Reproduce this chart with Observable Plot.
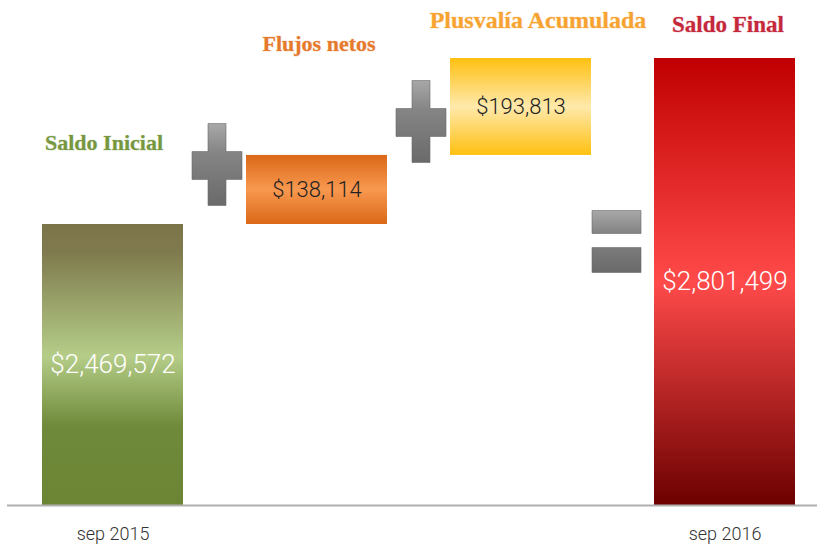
<!DOCTYPE html>
<html>
<head>
<meta charset="utf-8">
<script src="https://cdn.jsdelivr.net/npm/d3@7"></script>
<script src="https://cdn.jsdelivr.net/npm/@observablehq/plot@0.6"></script>
<style>
  html, body { margin: 0; padding: 0; background: #fff; }
  #chart svg { display: block; }
</style>
</head>
<body>
<div id="chart"></div>
<script>
// ---- data ----
const categories = ["Saldo Inicial", "Flujos netos", "Plusvalía Acumulada", "Saldo Final"];
const amounts = [2469572, 138114, 193813, 2801499];
const kinds = ["total", "delta", "delta", "total"];
const tickLabels = ["sep 2015", "", "", "sep 2016"];
const axisMin = 1907700;
const operators = ["+", "+", "="];
const operatorLevels = [2587500, 2673500, 2435600];

// ---- styles (kept apart from data) ----
const gradients = {
  "Saldo Inicial": "gGreen",
  "Flujos netos": "gOrange",
  "Plusvalía Acumulada": "gYellow",
  "Saldo Final": "gRed"
};
const titleColors = {
  "Saldo Inicial": "#76973f",
  "Flujos netos": "#e5792c",
  "Plusvalía Acumulada": "#f7a332",
  "Saldo Final": "#c4283a"
};
const titleStyle = {
  "Saldo Inicial": {dy: -82, dx: -9, size: 22},
  "Flujos netos": {dy: -111, dx: 2, size: 22},
  "Plusvalía Acumulada": {dy: -38, dx: 17, size: 24},
  "Saldo Final": {dy: -34, dx: 3, size: 23}
};
const valueStyle = {
  "Saldo Inicial": {color: "#ffffff", size: 26},
  "Flujos netos": {color: "#222222", size: 22},
  "Plusvalía Acumulada": {color: "#222222", size: 22},
  "Saldo Final": {color: "#ffffff", size: 26}
};

// ---- build table ----
let run = 0;
const bars = categories.map((c, i) => {
  let y1, y2;
  if (kinds[i] === "total") { y1 = axisMin; y2 = amounts[i]; run = amounts[i]; }
  else { y1 = run; y2 = run + amounts[i]; run = y2; }
  return {category: c, amount: amounts[i], y1, y2, mid: (y1 + y2) / 2, tick: tickLabels[i]};
});
const ops = operators.map((s, i) => ({symbol: s, next: categories[i + 1], level: operatorLevels[i]}));

const fmt = v => "$" + d3.format(",")(v);

// custom symbols
const plusSymbol = {
  draw(ctx) {
    ctx.moveTo(-9, -42); ctx.lineTo(9, -42); ctx.lineTo(9, -14); ctx.lineTo(25, -14);
    ctx.lineTo(25, 14); ctx.lineTo(9, 14); ctx.lineTo(9, 40); ctx.lineTo(-9, 40);
    ctx.lineTo(-9, 14); ctx.lineTo(-25, 14); ctx.lineTo(-25, -14); ctx.lineTo(-9, -14);
    ctx.closePath();
  }
};
const equalsSymbol = {
  draw(ctx) {
    ctx.rect(-25, -31, 49, 23);
    ctx.rect(-25, 6, 49, 25);
  }
};

const marks = [];
for (const b of bars) {
  marks.push(Plot.barY([b], {x: "category", y1: "y1", y2: "y2", fill: `url(#${gradients[b.category]})`, insetLeft: 0, insetRight: 0}));
}
marks.push(Plot.ruleY([axisMin], {stroke: "#b0b0b0", strokeWidth: 2}));
for (const o of ops) {
  marks.push(Plot.dot([o], {
    x: "next", y: "level", dx: o.symbol === "=" ? -108 : -100,
    symbol: o.symbol === "=" ? equalsSymbol : plusSymbol,
    fill: "url(#gGray)", stroke: "#6a6a6a", strokeWidth: 0.6
  }));
}
for (const b of bars) {
  const s = valueStyle[b.category];
  marks.push(Plot.text([b], {
    x: "category", y: "mid", text: d => fmt(d.amount),
    fill: s.color, fontSize: s.size, fontWeight: 300,
    fontFamily: "Roboto, 'DejaVu Sans', sans-serif"
  }));
}
for (const b of bars) {
  const s = titleStyle[b.category];
  marks.push(Plot.text([b], {
    x: "category", y: "y2", text: "category", dy: s.dy, dx: s.dx,
    fill: titleColors[b.category], fontSize: s.size, fontWeight: "bold",
    fontFamily: "'Liberation Serif', 'DejaVu Serif', serif",
    stroke: titleColors[b.category], strokeOpacity: 0.25, strokeWidth: 1.2
  }));
}
marks.push(Plot.axisX({
  ticks: [categories[0], categories[3]],
  tickFormat: c => tickLabels[categories.indexOf(c)],
  tickSize: 0, tickPadding: 22, fontSize: 18, fill: "#333",
  fontFamily: "Roboto, sans-serif", fontWeight: 300
}));

const chart = Plot.plot({
  width: 817,
  height: 548,
  marginLeft: 7,
  marginRight: 0,
  marginTop: 0,
  marginBottom: 43,
  style: {background: "#fff", overflow: "visible"},
  x: {domain: categories, range: [10.5, 826.5], paddingInner: 0.31, paddingOuter: 0.155, axis: null},
  y: {domain: [axisMin, amounts[3]], range: [505, 58], axis: null},
  marks
});

const svg = d3.select(chart);
const defs = svg.insert("defs", ":first-child");
function grad(id, stops) {
  const g = defs.append("linearGradient").attr("id", id)
    .attr("x1", 0).attr("y1", 0).attr("x2", 0).attr("y2", 1);
  for (const [o, c] of stops) g.append("stop").attr("offset", o).attr("stop-color", c);
}
grad("gGreen", [[0, "#7c7449"], [0.1, "#7f7a4d"], [0.47, "#b5cd88"], [0.72, "#6f8a3a"], [1, "#6b8535"]]);
grad("gRed", [[0, "#c00000"], [0.5, "#ff4a4a"], [1, "#6c0000"]]);
grad("gOrange", [[0, "#da6817"], [0.5, "#f8984f"], [1, "#da6817"]]);
grad("gYellow", [[0, "#ffc010"], [0.5, "#ffe9ab"], [1, "#ffc010"]]);
grad("gGray", [[0, "#a8a8a8"], [0.35, "#858585"], [1, "#6a6a6a"]]);

document.getElementById("chart").appendChild(chart);
</script>
</body>
</html>
